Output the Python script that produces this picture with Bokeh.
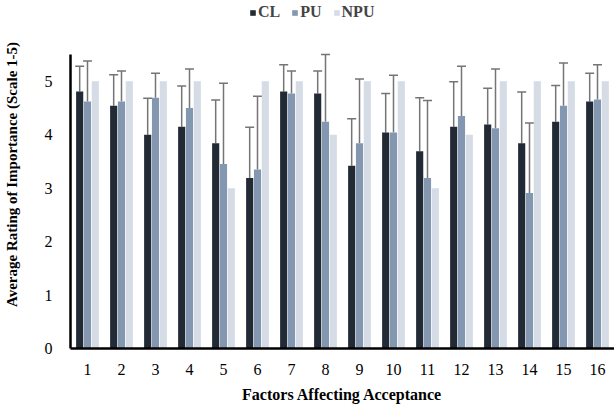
from bokeh.plotting import figure
from bokeh.models import (ColumnDataSource, Legend, LegendItem, FixedTicker,
                          Whisker, TeeHead, Range1d)
from bokeh.embed import file_html
from bokeh.resources import INLINE

# ---- data ----
factors = ["1", "2", "3", "4", "5", "6", "7", "8", "9", "10", "11", "12", "13", "14", "15", "16"]
series_names = ["CL", "PU", "NPU"]
cl_mean = [4.81, 4.54, 4.00, 4.15, 3.84, 3.19, 4.81, 4.77, 3.42, 4.04, 3.69, 4.15, 4.19, 3.84, 4.24, 4.62]
cl_sd = [0.47, 0.58, 0.68, 0.76, 0.81, 0.95, 0.50, 0.42, 0.88, 0.73, 1.00, 0.84, 0.68, 0.96, 0.68, 0.53]
pu_mean = [4.62, 4.62, 4.69, 4.50, 3.45, 3.35, 4.77, 4.24, 3.84, 4.04, 3.19, 4.35, 4.12, 2.91, 4.54, 4.66]
pu_sd = [0.76, 0.57, 0.46, 0.73, 1.51, 1.37, 0.42, 1.26, 1.20, 1.07, 1.45, 0.93, 1.11, 1.31, 0.80, 0.65]
npu_mean = [5, 5, 5, 5, 3, 5, 5, 4, 5, 5, 3, 4, 5, 5, 5, 5]
y_ticks = [0, 1, 2, 3, 4, 5]
y_axis_max = 5.5

colors = ["#222a35", "#8497b0", "#d6dce5"]
offsets = [-0.23, 0.0, 0.23]
bar_w = 0.21
FONT = "Liberation Serif"

# the frame reaches up to the top of the canvas so the legend can sit above the
# axis; the y axis line itself is bounded to 0..5.5
p = figure(width=614, height=407, output_backend="svg", toolbar_location=None,
           x_range=Range1d(0.5, len(factors) + 0.5), y_range=Range1d(0, 6.51),
           min_border_left=68, min_border_right=0, min_border_top=0,
           min_border_bottom=59)
p.outline_line_color = None
p.xgrid.visible = False
p.ygrid.visible = False
p.background_fill_color = "white"

idx = list(range(1, len(factors) + 1))
means = [cl_mean, pu_mean, npu_mean]
sds = [cl_sd, pu_sd, None]
renderers = []
for k, (name, m, sd) in enumerate(zip(series_names, means, sds)):
    xs = [i + offsets[k] for i in idx]
    data = dict(x=xs, top=m)
    if sd is not None:
        data["upper"] = [a + b for a, b in zip(m, sd)]
    src = ColumnDataSource(data)
    r = p.vbar(x="x", top="top", width=bar_w, bottom=0, source=src,
               fill_color=colors[k], line_color=None)
    renderers.append(r)
    if sd is not None:
        w = Whisker(base="x", lower="top", upper="upper", source=src,
                    dimension="height", line_color="#757575", line_width=1.5,
                    lower_head=None,
                    upper_head=TeeHead(size=9, line_color="#757575", line_width=1.5))
        p.add_layout(w)

# axes
p.xaxis.ticker = FixedTicker(ticks=idx)
p.xaxis.major_label_overrides = {i: f for i, f in zip(idx, factors)}
p.yaxis.ticker = FixedTicker(ticks=y_ticks)
p.yaxis.bounds = (0, y_axis_max)
for ax in (p.xaxis, p.yaxis):
    ax.axis_line_color = "black"
    ax.axis_line_width = 2.5
    ax.major_tick_line_color = None
    ax.minor_tick_line_color = None
    ax.major_label_text_font = FONT
    ax.major_label_text_font_size = "16px"
    ax.major_label_text_color = "black"
    ax.axis_label_text_font = FONT
    ax.axis_label_text_font_style = "bold"
    ax.axis_label_text_color = "black"
p.xaxis.axis_label_text_font_size = "16px"
p.yaxis.axis_label_text_font_size = "15px"
p.xaxis.major_label_standoff = 9
p.yaxis.major_label_standoff = 12
p.xaxis.axis_label = "Factors Affecting Acceptance"
p.yaxis.axis_label = "Average Rating of Importance (Scale 1-5)"
p.xaxis.axis_label_standoff = 8
p.yaxis.axis_label_standoff = 22

legend = Legend(items=[LegendItem(label=n, renderers=[r]) for n, r in zip(series_names, renderers)],
                orientation="horizontal", location=(179, 327),
                glyph_width=7, glyph_height=7, label_standoff=2, spacing=11,
                padding=0, margin=0, border_line_color=None,
                background_fill_alpha=0,
                label_text_font=FONT, label_text_font_style="bold",
                label_text_font_size="16px", label_height=14)
p.add_layout(legend, "center")

open("out.html", "w").write(file_html(p, INLINE))
